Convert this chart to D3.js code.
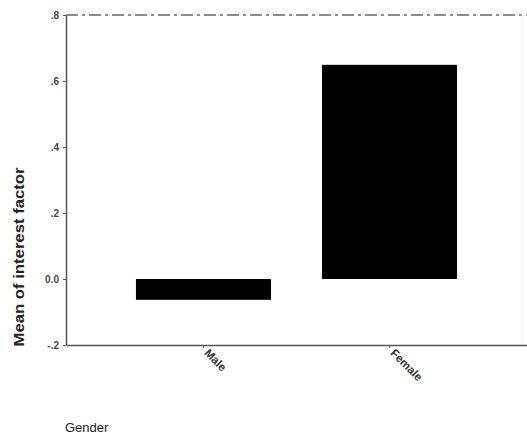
<!DOCTYPE html>
<html><head><meta charset="utf-8">
<script src="https://cdn.jsdelivr.net/npm/d3@7"></script>
<style>body{margin:0;background:#fff}svg{display:block}</style>
</head><body>
<script>
const categories = ["Male", "Female"];
const values = [-0.063, 0.649];
const yTicks = [-0.2, 0, 0.2, 0.4, 0.6, 0.8];
const yTickLabels = ["-.2", "0.0", ".2", ".4", ".6", ".8"];
const yTitle = "Mean of interest factor";
const xTitle = "Gender";

const W = 527, H = 440;
const m = {left: 66, right: 0, top: 15, bottom: 95};
const font = "Liberation Sans, Arial, sans-serif";
const svg = d3.select("body").append("svg").attr("width", W).attr("height", H);
const x = d3.scaleBand().domain(categories).range([m.left, W - m.right]).paddingInner(0.274).paddingOuter(0.376);
const y = d3.scaleLinear().domain([-0.2, 0.8]).range([H - m.bottom, m.top]);
const axisCol = "#555";

// bars
svg.selectAll("rect.bar").data(categories).enter().append("rect")
  .attr("x", d => x(d)).attr("width", x.bandwidth())
  .attr("y", (d, i) => y(Math.max(0, values[i])))
  .attr("height", (d, i) => Math.abs(y(values[i]) - y(0)))
  .attr("fill", "#000");

// top dash-dot line
svg.append("line").attr("x1", m.left).attr("x2", W).attr("y1", y(0.8)).attr("y2", y(0.8))
  .attr("stroke", "#666").attr("stroke-width", 1.5).attr("stroke-dasharray", "12,4,3,4");
// faint right border
svg.append("line").attr("x1", W - 5).attr("x2", W - 5).attr("y1", y(0.8)).attr("y2", y(-0.2))
  .attr("stroke", "#eee").attr("stroke-width", 1);

// y axis
const ya = svg.append("g").attr("transform", `translate(${m.left},0)`)
  .call(d3.axisLeft(y).tickValues(yTicks).tickFormat((d, i) => yTickLabels[i]).tickSize(3).tickSizeOuter(0).tickPadding(4));
ya.select(".domain").attr("stroke", axisCol).attr("stroke-width", 1.5);
ya.selectAll(".tick line").attr("stroke", axisCol);
ya.selectAll("text").attr("font-family", font).attr("font-size", 10).attr("font-weight", "bold").attr("fill", "#444");

// x axis
const xa = svg.append("g").attr("transform", `translate(0,${y(-0.2)})`)
  .call(d3.axisBottom(x).tickSize(3).tickSizeOuter(0).tickPadding(6));
xa.select(".domain").attr("stroke", axisCol).attr("stroke-width", 1.5);
xa.selectAll(".tick line").attr("stroke", axisCol);
xa.selectAll("text").attr("font-family", font).attr("font-size", 11.5).attr("font-weight", "bold").attr("fill", "#333")
  .attr("text-anchor", "start").attr("transform", "translate(3,6) rotate(45)").attr("dy", "0.35em").attr("y", 0).attr("x", 0);

// titles
svg.append("text").attr("transform", `translate(24,257) rotate(-90)`).attr("text-anchor", "middle")
  .attr("font-family", font).attr("font-size", 15).attr("font-weight", "bold").attr("fill", "#222")
  .attr("textLength", 179).attr("lengthAdjust", "spacingAndGlyphs").text(yTitle);
svg.append("text").attr("x", 65).attr("y", 432)
  .attr("font-family", font).attr("font-size", 13).attr("fill", "#222").text(xTitle);
</script>
</body></html>
